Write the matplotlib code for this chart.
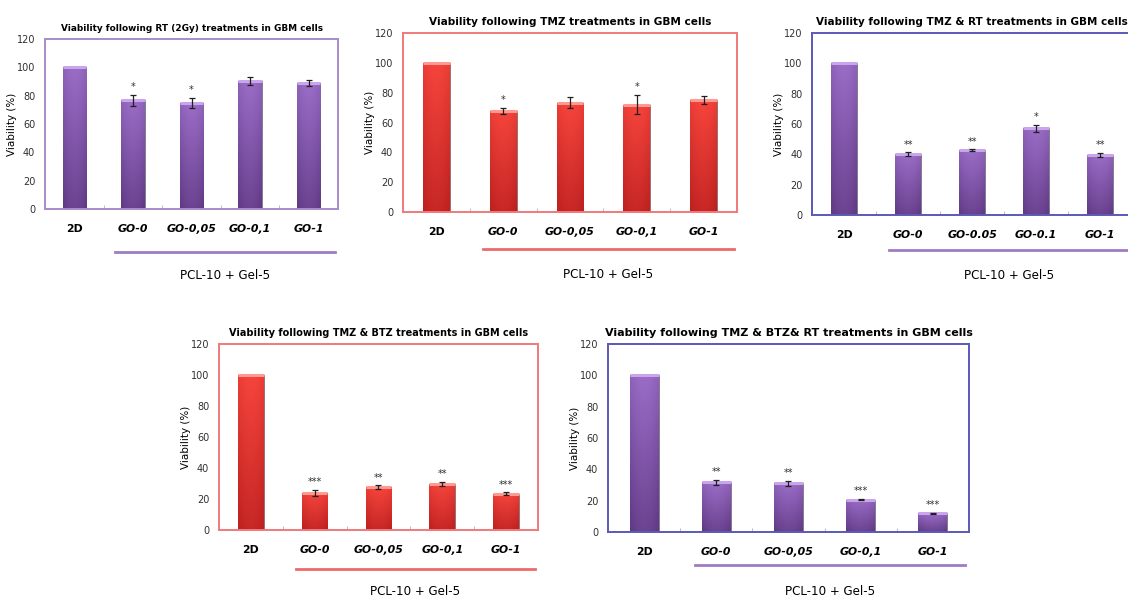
import numpy as np
import matplotlib.pyplot as plt
from matplotlib.colors import LinearSegmentedColormap
import matplotlib.transforms as mtransforms

# values
titles = [
    'Viability following RT (2Gy) treatments in GBM cells',
    'Viability following TMZ treatments in GBM cells',
    'Viability following TMZ & RT treatments in GBM cells',
    'Viability following TMZ & BTZ treatments in GBM cells',
    'Viability following TMZ & BTZ& RT treatments in GBM cells',
]
labels_comma = ['2D', 'GO-0', 'GO-0,05', 'GO-0,1', 'GO-1']
labels_dot = ['2D', 'GO-0', 'GO-0.05', 'GO-0.1', 'GO-1']

rt_vals = [100, 76.6, 74.8, 90.5, 88.8]
rt_err = [0, 4.0, 3.6, 2.7, 2.0]
rt_sig = ['', '*', '*', '', '']

tmz_vals = [100, 68.0, 73.4, 72.0, 74.9]
tmz_err = [0, 2.0, 3.7, 6.5, 2.7]
tmz_sig = ['', '*', '', '*', '']

tmzrt_vals = [100, 40.2, 42.7, 57.2, 39.8]
tmzrt_err = [0, 1.1, 0.5, 2.3, 1.4]
tmzrt_sig = ['', '**', '**', '*', '**']

tmzbtz_vals = [100, 23.9, 27.6, 29.7, 23.3]
tmzbtz_err = [0, 1.8, 1.2, 1.3, 1.0]
tmzbtz_sig = ['', '***', '**', '**', '***']

all_vals = [100, 31.7, 31.1, 20.6, 11.8]
all_err = [0, 1.5, 1.5, 0.5, 0.4]
all_sig = ['', '**', '**', '***', '***']

group_label = 'PCL-10 + Gel-5'

purple = dict(dark='#5c3680', light='#9a6cc6', cap='#c9a6ec', frame='#a98acb', line='#9e7cc4')
red = dict(dark='#b81e1e', light='#f5443c', cap='#ff9a90', frame='#f07a7a', line='#ee6a6a')
blue_frame = '#5a5ab8'

panels = [
    # axes rect (fig fraction), title, labels, values, errors, stars, colours, frame, title size, underline y, label y
    ([0.0399, 0.6505, 0.2598, 0.2843], titles[0], labels_comma, rt_vals, rt_err, rt_sig, purple, purple['frame'], 6.4, -0.253, -0.39),
    ([0.3573, 0.6455, 0.2961, 0.2993], titles[1], labels_comma, tmz_vals, tmz_err, tmz_sig, red, red['frame'], 7.55, -0.207, -0.35),
    ([0.7199, 0.6405, 0.2837, 0.3043], titles[2], labels_dot, tmzrt_vals, tmzrt_err, tmzrt_sig, purple, blue_frame, 7.5, -0.19, -0.33),
    ([0.1941, 0.1137, 0.2828, 0.3110], titles[3], labels_comma, tmzbtz_vals, tmzbtz_err, tmzbtz_sig, red, red['frame'], 7.05, -0.21, -0.333),
    ([0.5390, 0.1104, 0.3200, 0.3144], titles[4], labels_comma, all_vals, all_err, all_sig, purple, blue_frame, 8.05, -0.176, -0.319),
]

fig = plt.figure(figsize=(11.28, 5.98), dpi=100)

for rect, title, labels, vals, errs, sigs, col, frame, tsize, line_y, text_y in panels:
    ax = fig.add_axes(rect)
    x = np.arange(len(vals))
    w = 0.4
    bars = ax.bar(x, vals, width=w, color=col['light'], edgecolor='#505050', linewidth=0.4, zorder=2)

    # vertical gradient inside each bar, darker towards the bottom and edges
    cmap = LinearSegmentedColormap.from_list('g', [col['dark'], col['light']])
    yy = np.linspace(0, 1, 64)[:, None]
    xx = np.linspace(-1, 1, 32)[None, :]
    grad = yy * 0.75 + 0.25 - 0.2 * xx ** 2
    for b in bars:
        im = ax.imshow(grad, cmap=cmap, vmin=0, vmax=1, origin='lower', aspect='auto',
                       extent=[b.get_x(), b.get_x() + b.get_width(), 0, b.get_height()], zorder=2.1)
        im.set_clip_path(b)
    ax.hlines(vals, x - w / 2, x + w / 2, color=col['cap'], linewidth=2.2, zorder=2.2)

    e = [v if v > 0 else np.nan for v in errs]
    ax.errorbar(x, vals, yerr=e, fmt='none', ecolor='#202020', elinewidth=0.9, capsize=2, capthick=0.9, zorder=3)
    for xi, v, er, s in zip(x, vals, errs, sigs):
        if s:
            ax.annotate(s, (xi, v + er), xytext=(0, 2), textcoords='offset points',
                        ha='center', va='bottom', fontsize=7, color='#303030')

    ax.set_xlim(-0.5, len(vals) - 0.5)
    ax.set_ylim(0, 120)
    ax.set_yticks(range(0, 121, 20))
    ax.tick_params(axis='y', length=0, pad=7, labelsize=7, labelcolor='#303030')
    ax.set_xticks(x)
    ax.set_xticks(x[:-1] + 0.5, minor=True)
    ax.tick_params(axis='x', which='major', length=0, pad=11)
    ax.tick_params(axis='x', which='minor', length=3, direction='in', color='#b0b0b0')
    ax.set_xticklabels(labels)
    for i, t in enumerate(ax.get_xticklabels()):
        t.set_fontsize(7.8)
        t.set_fontweight('bold')
        if i > 0:
            t.set_fontstyle('italic')
    ax.set_ylabel('Viability (%)', fontsize=7.5, labelpad=0)
    ax.set_title(title, fontsize=tsize, fontweight='bold', pad=6)
    for sp in ax.spines.values():
        sp.set_color(frame)
        sp.set_linewidth(1.4)

    # group underline and label below the GO bars
    tr = mtransforms.blended_transform_factory(ax.transData, ax.transAxes)
    ax.plot([0.7, 4.45], [line_y, line_y], transform=tr, color=col['line'], linewidth=2, clip_on=False)
    ax.text(2.575, text_y, group_label, transform=tr, ha='center', va='center', fontsize=8.6)

fig.savefig('out.png', dpi=100)
